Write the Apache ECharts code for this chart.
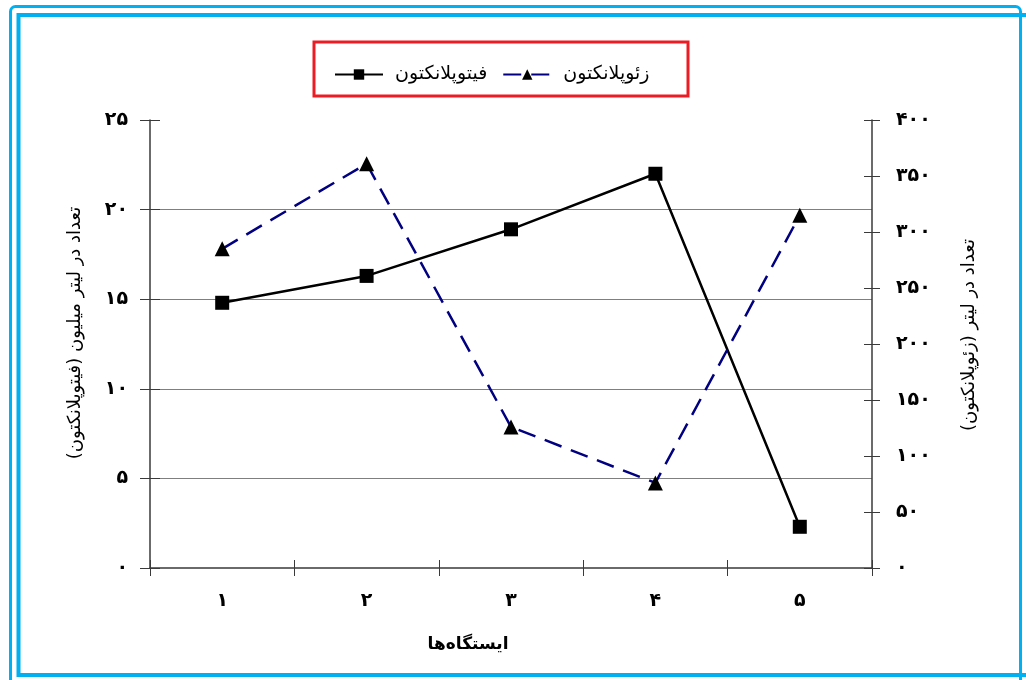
<!DOCTYPE html>
<html><head><meta charset="utf-8">
<script src="https://cdn.jsdelivr.net/npm/echarts@6/dist/echarts.min.js"></script>
<style>html,body{margin:0;padding:0;background:#fff}#c{width:1026px;height:680px}</style>
</head><body><div id="c"></div>
<script>
const categories = ['1', '2', '3', '4', '5'];
const phytoName = 'فیتوپلانکتون';
const zooName = 'زئوپلانکتون';
const phytoValues = [14.8, 16.3, 18.9, 22.0, 2.3];
const zooValues = [285, 361, 126, 76, 315];
const leftTicks = [0, 5, 10, 15, 20, 25];
const rightTicks = [0, 50, 100, 150, 200, 250, 300, 350, 400];
const leftTitle = 'تعداد در لیتر میلیون (فیتوپلانکتون)';
const rightTitle = 'تعداد در لیتر (زئوپلانکتون)';
const xTitle = 'ایستگاه‌ها';

const fa = s => String(s).replace(/\d/g, d => '۰۱۲۳۴۵۶۷۸۹'[d]);
const FONT = 'DejaVu Sans';
const axisCol = '#3a3a3a';
const chart = echarts.init(document.getElementById('c'));
const labelStyle = {fontFamily: FONT, fontSize: 19, fontWeight: 'bold', color: '#000'};

chart.setOption({
  backgroundColor: '#fff',
  animation: false,
  textStyle: {fontFamily: FONT},
  graphic: [
    {type: 'rect', shape: {x: 10.5, y: 6.5, width: 1010, height: 720, r: 5}, style: {fill: null, stroke: '#00b0f0', lineWidth: 3}},
    {type: 'rect', shape: {x: 18.5, y: 15, width: 1040, height: 660}, style: {fill: null, stroke: '#00b0f0', lineWidth: 4}},
    {type: 'rect', shape: {x: 314, y: 42, width: 374, height: 54}, style: {fill: null, stroke: '#ed1c24', lineWidth: 3}}
  ],
  legend: {
    left: 329, top: 60,
    itemWidth: 48, itemHeight: 13, itemGap: 15,
    textStyle: {fontFamily: FONT, fontSize: 19, color: '#000', padding: [0, 0, 0, 7]},
    data: [phytoName, zooName]
  },
  grid: {left: 150, right: 154, top: 120, bottom: 112},
  xAxis: [
    {type: 'category', data: categories, boundaryGap: true,
     axisLine: {lineStyle: {color: axisCol, width: 1.5}},
     axisTick: {show: true, length: 8, lineStyle: {color: axisCol, width: 1}},
     axisLabel: Object.assign({margin: 24, formatter: v => fa(v)}, labelStyle),
     name: xTitle, nameLocation: 'middle', nameGap: 68,
     nameTextStyle: {fontFamily: FONT, fontSize: 17, fontWeight: 'bold', color: '#000', padding: [0, 86, 0, 0]}},
    {type: 'category', data: categories, boundaryGap: true, position: 'bottom',
     axisLine: {show: false}, axisLabel: {show: false},
     axisTick: {show: true, inside: true, length: 8, lineStyle: {color: axisCol, width: 1}}}
  ],
  yAxis: [
    {type: 'value', min: leftTicks[0], max: leftTicks[leftTicks.length - 1], interval: 5, position: 'left',
     axisLine: {show: true, lineStyle: {color: axisCol, width: 1.5}},
     axisTick: {show: true, length: 10, lineStyle: {color: axisCol}},
     axisLabel: Object.assign({margin: 22, formatter: v => fa(v)}, labelStyle),
     splitLine: {show: true, showMinLine: false, showMaxLine: false, lineStyle: {color: '#7f7f7f', width: 1.2}},
     name: leftTitle, nameLocation: 'middle', nameGap: 66, nameRotate: 90,
     nameTextStyle: {fontFamily: FONT, fontSize: 18, color: '#000', padding: [0, 0, 0, 22]}},
    {type: 'value', min: rightTicks[0], max: rightTicks[rightTicks.length - 1], interval: 50, position: 'right',
     axisLine: {show: true, lineStyle: {color: axisCol, width: 1.5}},
     axisTick: {show: true, length: 8, lineStyle: {color: axisCol}},
     axisLabel: Object.assign({margin: 24, formatter: v => fa(v)}, labelStyle),
     splitLine: {show: false},
     name: rightTitle, nameLocation: 'middle', nameGap: 88, nameRotate: 90,
     nameTextStyle: {fontFamily: FONT, fontSize: 18, color: '#000', padding: [0, 0, 0, 18]}},
    {type: 'value', min: 0, max: 25, interval: 5, position: 'left',
     axisLine: {show: false}, axisLabel: {show: false}, splitLine: {show: false},
     axisTick: {show: true, inside: true, length: 10, lineStyle: {color: axisCol}}},
    {type: 'value', min: 0, max: 400, interval: 50, position: 'right',
     axisLine: {show: false}, axisLabel: {show: false}, splitLine: {show: false},
     axisTick: {show: true, inside: true, length: 8, lineStyle: {color: axisCol}}}
  ],
  series: [
    {name: phytoName, type: 'line', yAxisIndex: 0, data: phytoValues,
     symbol: 'rect', symbolSize: 14, itemStyle: {color: '#000'},
     lineStyle: {color: '#000', width: 2.5}, z: 3},
    {name: zooName, type: 'line', yAxisIndex: 1, data: zooValues,
     symbol: 'triangle', symbolSize: 15, itemStyle: {color: '#000'},
     lineStyle: {color: '#000080', width: 2.5, type: [18, 10]}, z: 3}
  ]
});
</script></body></html>
